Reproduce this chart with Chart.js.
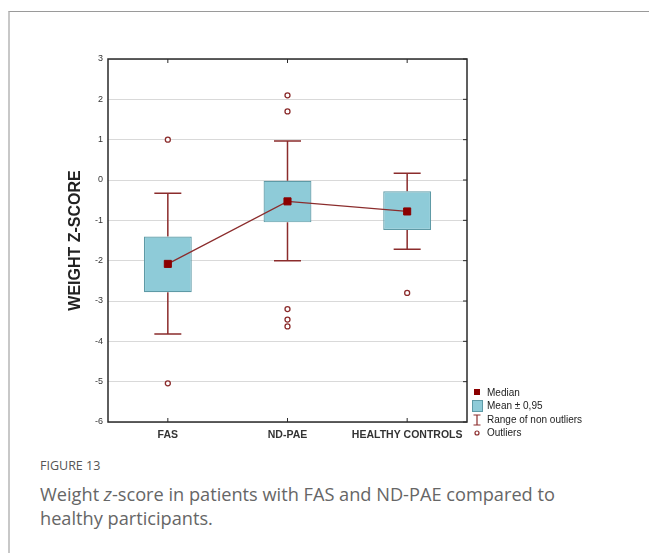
<!DOCTYPE html>
<html>
<head>
<meta charset="utf-8">
<script src="https://cdn.jsdelivr.net/npm/chart.js@4.4.1/dist/chart.umd.min.js"></script>
<style>
    html, body { margin: 0; padding: 0; background: #fff; }
    body { width: 649px; height: 553px; position: relative; overflow: hidden; }
    .card { position: absolute; left: 8px; top: 11px; right: -2px; bottom: -2px; border-top: 1.5px solid #9a9a9a; border-left: 2px solid #c8c8c8; }
    #chart { position: absolute; left: 0; top: 0; }
    .fig-label { position: absolute; left: 40px; top: 457px; font-family: "Open Sans", sans-serif; font-size: 12.5px; color: #555; }
    .fig-caption { position: absolute; left: 40px; top: 482px; width: 565px; font-family: "Open Sans", sans-serif; font-size: 18.2px; line-height: 24px; color: #666; }
</style>
</head>
<body>
<div class="card"></div>
<canvas id="chart" width="649" height="450"></canvas>
<div class="fig-label">FIGURE 13</div>
<div class="fig-caption">Weight <i>z</i>-score in patients with FAS and ND-PAE compared to healthy participants.</div>

<script>
// Data
const categories = ['FAS', 'ND-PAE', 'HEALTHY CONTROLS'];
const medians = [-2.08, -0.53, -0.78];
const boxLow = [-2.78, -1.05, -1.24];
const boxHigh = [-1.4, -0.02, -0.28];
const whiskerLow = [-3.82, -2.0, -1.72];
const whiskerHigh = [-0.33, 0.97, 0.17];
const outlierCats = ['FAS', 'FAS', 'ND-PAE', 'ND-PAE', 'ND-PAE', 'ND-PAE', 'ND-PAE', 'HEALTHY CONTROLS'];
const outlierValues = [1.0, -5.04, 2.1, 1.7, -3.2, -3.46, -3.63, -2.8];
const yTicks = [3, 2, 1, 0, -1, -2, -3, -4, -5, -6];

const DARK_RED = '#8b2c2c';

// Whiskers, frame, inner ticks and the legend
const boxPlotExtras = {
    id: 'boxPlotExtras',
    beforeDatasetsDraw(chart) {
        const { ctx, scales: { x, y } } = chart;
        ctx.save();
        ctx.strokeStyle = DARK_RED;
        ctx.lineWidth = 1.5;
        categories.forEach((cat, i) => {
            const cx = x.getPixelForValue(i);
            const capHalf = 13.5;
            ctx.beginPath();
            ctx.moveTo(cx, y.getPixelForValue(boxHigh[i]));
            ctx.lineTo(cx, y.getPixelForValue(whiskerHigh[i]));
            ctx.moveTo(cx, y.getPixelForValue(boxLow[i]));
            ctx.lineTo(cx, y.getPixelForValue(whiskerLow[i]));
            ctx.moveTo(cx - capHalf, y.getPixelForValue(whiskerHigh[i]));
            ctx.lineTo(cx + capHalf, y.getPixelForValue(whiskerHigh[i]));
            ctx.moveTo(cx - capHalf, y.getPixelForValue(whiskerLow[i]));
            ctx.lineTo(cx + capHalf, y.getPixelForValue(whiskerLow[i]));
            ctx.stroke();
        });
        ctx.restore();
    },
    afterDraw(chart) {
        const { ctx, chartArea: a, scales: { x, y } } = chart;
        ctx.save();
        // frame
        ctx.strokeStyle = '#2a2a2a';
        ctx.lineWidth = 1.5;
        ctx.strokeRect(a.left, a.top, a.right - a.left, a.bottom - a.top);
        // inner ticks
        ctx.lineWidth = 1;
        ctx.beginPath();
        yTicks.forEach(v => {
            const py = y.getPixelForValue(v);
            ctx.moveTo(a.right, py);
            ctx.lineTo(a.right - 4, py);
        });
        categories.forEach((c, i) => {
            const px = x.getPixelForValue(i);
            ctx.moveTo(px, a.top);
            ctx.lineTo(px, a.top + 4);
            ctx.moveTo(px, a.bottom);
            ctx.lineTo(px, a.bottom - 4);
        });
        ctx.stroke();

        // legend
        const lx = 477, tx = 487;
        ctx.font = '10px "Liberation Sans", Arial, sans-serif';
        ctx.fillStyle = '#222';
        ctx.textBaseline = 'middle';
        ctx.fillText('Median', tx, 393);
        ctx.fillText('Mean \u00b1 0,95', tx, 406);
        ctx.fillText('Range of non outliers', tx, 420);
        ctx.fillText('Outliers', tx, 433);

        ctx.fillStyle = '#8b0000';
        ctx.fillRect(lx - 3, 389, 6, 5);
        ctx.strokeStyle = '#8b0000';
        ctx.beginPath();
        ctx.moveTo(lx - 3, 394.5);
        ctx.lineTo(lx + 3, 394.5);
        ctx.stroke();

        ctx.fillStyle = '#8ecbd8';
        ctx.strokeStyle = '#5e9aa6';
        ctx.fillRect(472.5, 400.5, 10, 11);
        ctx.strokeRect(472.5, 400.5, 10, 11);

        ctx.strokeStyle = DARK_RED;
        ctx.lineWidth = 1.2;
        ctx.beginPath();
        ctx.moveTo(lx, 415); ctx.lineTo(lx, 425);
        ctx.moveTo(lx - 3.5, 415); ctx.lineTo(lx + 3.5, 415);
        ctx.moveTo(lx - 3.5, 425); ctx.lineTo(lx + 3.5, 425);
        ctx.stroke();

        ctx.beginPath();
        ctx.arc(lx, 433, 2, 0, Math.PI * 2);
        ctx.stroke();
        ctx.restore();
    }
};

const ctx = document.getElementById('chart').getContext('2d');
new Chart(ctx, {
    type: 'bar',
    data: {
        labels: categories,
        datasets: [
            {
                type: 'line',
                label: 'Median',
                data: medians,
                borderColor: DARK_RED,
                borderWidth: 1.2,
                pointStyle: 'rect',
                pointRadius: 5,
                pointBackgroundColor: '#8b0000',
                pointBorderColor: '#8b0000',
                pointBorderWidth: 1,
                order: 0
            },
            {
                type: 'line',
                label: 'Outliers',
                data: outlierCats.map((c, i) => ({ x: c, y: outlierValues[i] })),
                showLine: false,
                pointStyle: 'circle',
                pointRadius: 2.5,
                pointBackgroundColor: '#fff',
                pointBorderColor: DARK_RED,
                pointBorderWidth: 1.3,
                order: 1
            },
            {
                label: 'Mean \u00b1 0,95',
                data: boxLow.map((v, i) => [v, boxHigh[i]]),
                backgroundColor: '#8ecbd8',
                borderColor: '#5e9aa6',
                borderWidth: 1.2,
                borderSkipped: false,
                barPercentage: 0.4,
                categoryPercentage: 1,
                order: 2
            }
        ]
    },
    options: {
        responsive: false,
        animation: false,
        layout: { padding: { left: 0, top: 59, right: 182, bottom: 0 } },
        plugins: {
            legend: { display: false },
            tooltip: { enabled: false }
        },
        scales: {
            x: {
                grid: { display: false, drawTicks: false },
                border: { display: false },
                ticks: {
                    color: '#333',
                    padding: 7,
                    font: { family: '"Liberation Sans", Arial, sans-serif', size: 10.5, weight: 'bold' }
                },
                afterFit(scale) { scale.height = 28; }
            },
            y: {
                min: -6,
                max: 3,
                grid: { color: '#d9d9d9', lineWidth: 1, drawTicks: false },
                border: { display: false },
                ticks: {
                    stepSize: 1,
                    color: '#333',
                    padding: 5,
                    font: { family: '"Liberation Sans", Arial, sans-serif', size: 9 }
                },
                title: {
                    display: true,
                    text: 'WEIGHT Z-SCORE',
                    color: '#222',
                    padding: { top: 66, bottom: 0 },
                    font: { family: '"Liberation Sans", Arial, sans-serif', size: 16, weight: 'bold' }
                },
                afterFit(scale) { scale.width = 108; }
            }
        }
    },
    plugins: [boxPlotExtras]
});
</script>
</body>
</html>
